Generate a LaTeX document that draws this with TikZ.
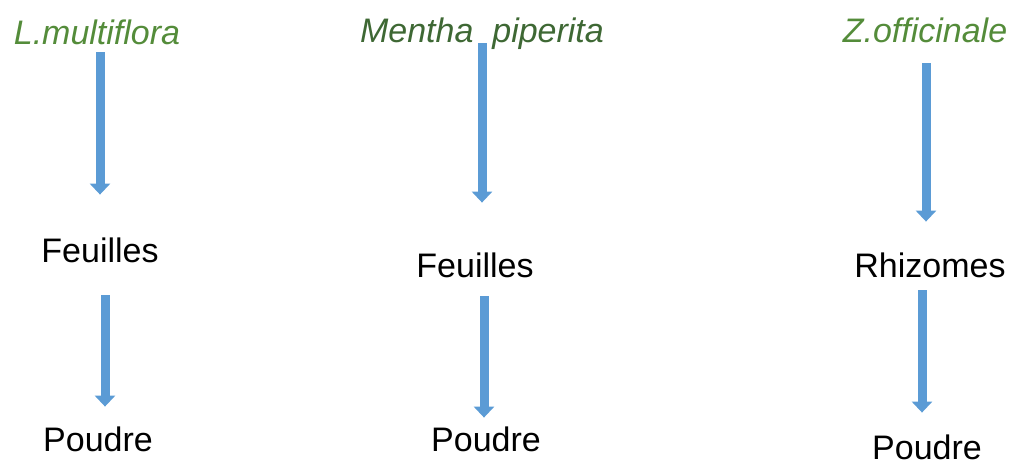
\documentclass[tikz,border=0pt]{standalone}
\usepackage{fontspec}
\setmainfont{Liberation Sans}
\usetikzlibrary{arrows.meta}
\definecolor{arrowblue}{RGB}{91,155,213}
\definecolor{plantgreen}{RGB}{84,140,58}
\definecolor{mintgreen}{RGB}{62,104,52}

\begin{document}
\begin{tikzpicture}[x=0.5pt, y=-0.5pt,
     font=\fontsize{17pt}{20pt}\selectfont,
     word/.style={anchor=base, inner sep=0pt, text height=12.75pt, text depth=4.25pt},
     plant/.style={word, font=\fontsize{17pt}{20pt}\selectfont\itshape, text=plantgreen},
     flow/.style={arrowblue, line width=4.5pt, -{Triangle[width=10pt, length=5.5pt]}}]
\useasboundingbox (0,0) rectangle (1011,469);
% plants
\node[plant] (lm) at (97,45) {L.multiflora};
\node[plant, text=mintgreen] (mp) at (482,43) {Mentha\ \ piperita};
\node[plant] (zo) at (925,43) {Z.officinale};
% parts used
\node[word] (f1) at (100,263) {Feuilles};
\node[word] (f2) at (475,278) {Feuilles};
\node[word] (rh) at (930,278) {Rhizomes};
% powders
\node[word] (p1) at (98,452) {Poudre};
\node[word] (p2) at (486,452) {Poudre};
\node[word] (p3) at (927,460) {Poudre};
\foreach \from/\to/\xa/\xb/\sa/\sb in
    {lm/f1/1.5/0/-0.75/21.25, mp/f2/0/3.5/-4.25/24.75, zo/rh/0.5/-2/5.75/15.25,
     f1/p1/2.5/3.5/11.75/9.75, f2/p2/4.5/-1/4.75/4.25, rh/p3/-4/-2.5/1.75/10.75}{
        \draw[flow, shorten <=\sa pt, shorten >=\sb pt]
             ([xshift=\xa pt]\from.south) -- ([xshift=\xb pt]\to.north);
}
\end{tikzpicture}
\end{document}
